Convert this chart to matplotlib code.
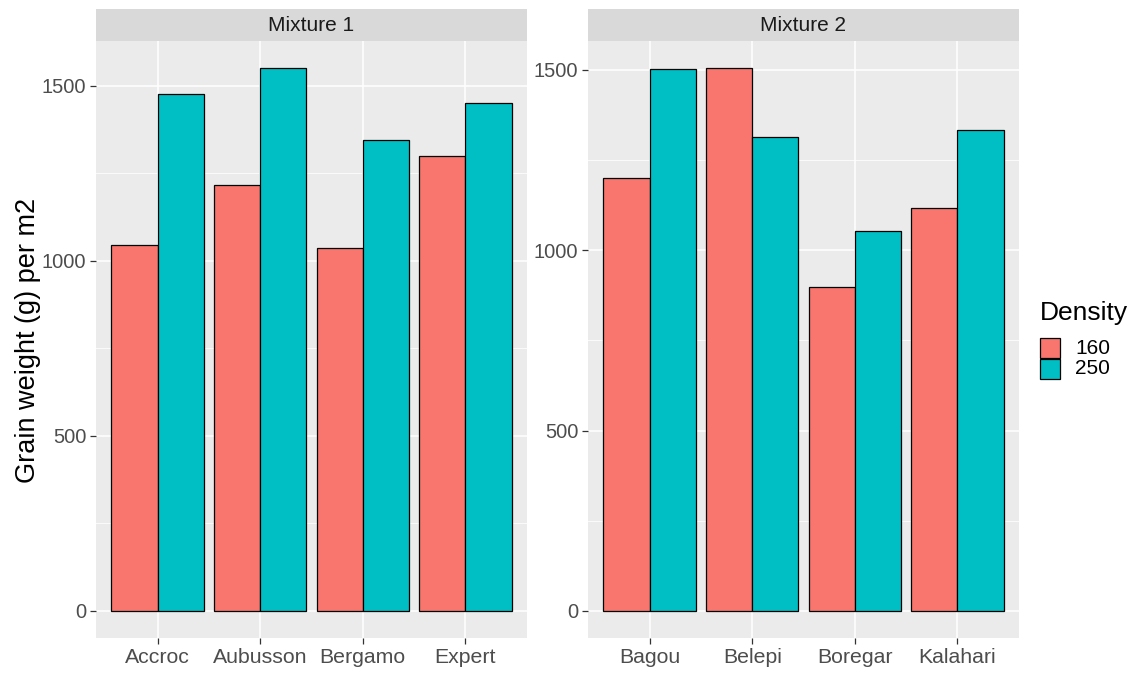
import matplotlib
matplotlib.use("Agg")
import matplotlib.pyplot as plt
from matplotlib.patches import Rectangle
import numpy as np

plt.rcParams['font.family'] = ['Liberation Sans', 'DejaVu Sans']

# ---- data ----
mix1_varieties = ["Accroc", "Aubusson", "Bergamo", "Expert"]
mix1_d160 = [1045, 1218, 1036, 1301]
mix1_d250 = [1477, 1551, 1346, 1452]

mix2_varieties = ["Bagou", "Belepi", "Boregar", "Kalahari"]
mix2_d160 = [1199, 1505, 898, 1116]
mix2_d250 = [1503, 1315, 1052, 1334]

facet_titles = ["Mixture 1", "Mixture 2"]
densities = ["160", "250"]
colors = ["#F8766D", "#00BFC4"]
ylabel = "Grain weight (g) per m2"
legend_title = "Density"

W, H = 1136, 675
fig = plt.figure(figsize=(W / 100, H / 100), dpi=100)

def px_axes(x0, y0, x1, y1):
    return fig.add_axes([x0 / W, 1 - y1 / H, (x1 - x0) / W, (y1 - y0) / H])

panels = [
    (96, 527, mix1_varieties, mix1_d160, mix1_d250, facet_titles[0]),
    (588, 1019, mix2_varieties, mix2_d160, mix2_d250, facet_titles[1]),
]
top, bottom, strip_top = 41, 638, 9

for (x0, x1, cats, v160, v250, title) in panels:
    ax = px_axes(x0, top, x1, bottom)
    ax.set_facecolor("#EBEBEB")
    n = len(cats)
    pos = np.arange(1, n + 1)
    w = 0.45
    ax.bar(pos - w / 2, v160, width=w, color=colors[0], edgecolor="black", linewidth=0.9, zorder=3)
    ax.bar(pos + w / 2, v250, width=w, color=colors[1], edgecolor="black", linewidth=0.9, zorder=3)
    ymax = max(max(v160), max(v250))
    ax.set_ylim(-0.05 * ymax, 1.05 * ymax)
    ax.set_xlim(0.4, n + 0.6)
    ax.set_xticks(pos)
    ax.set_xticklabels(cats, fontsize=15.3)
    ax.set_yticks([0, 500, 1000, 1500])
    ax.set_yticks([250, 750, 1250], minor=True)
    ax.grid(True, which="major", color="white", linewidth=1.1, zorder=0)
    ax.grid(True, which="minor", axis="y", color="white", linewidth=0.55, zorder=0)
    ax.set_axisbelow(True)
    for s in ax.spines.values():
        s.set_visible(False)
    ax.tick_params(axis="both", which="major", colors="#333333", length=4, width=0.9,
                   labelsize=14.5, labelcolor="#4D4D4D", pad=3)
    ax.tick_params(axis="x", which="major", labelsize=15.3)
    ax.tick_params(axis="both", which="minor", length=0)
    # strip
    sax = px_axes(x0, strip_top, x1, top)
    sax.set_facecolor("#D9D9D9")
    sax.set_xticks([]); sax.set_yticks([])
    for s in sax.spines.values():
        s.set_visible(False)
    sax.text(0.5, 0.48, title, ha="center", va="center", fontsize=15, color="#1A1A1A",
             transform=sax.transAxes)

fig.text(28 / W, 1 - 340 / H, ylabel, rotation=90, ha="center", va="center", fontsize=19.5, color="black")

# legend
fig.text(1040 / W, 1 - 313 / H, legend_title, ha="left", va="center", fontsize=19, color="black")
for i, (lab, c) in enumerate(zip(densities, colors)):
    ky0 = 338 + i * 20.5
    r = Rectangle((1040 / W, 1 - (ky0 + 20) / H), 20 / W, 20 / H, transform=fig.transFigure,
                  facecolor=c, edgecolor="black", linewidth=0.9)
    fig.patches.append(r)
    fig.text(1075 / W, 1 - (ky0 + 10.5) / H, lab, ha="left", va="center", fontsize=15, color="black")

fig.savefig("out.png", dpi=100)
